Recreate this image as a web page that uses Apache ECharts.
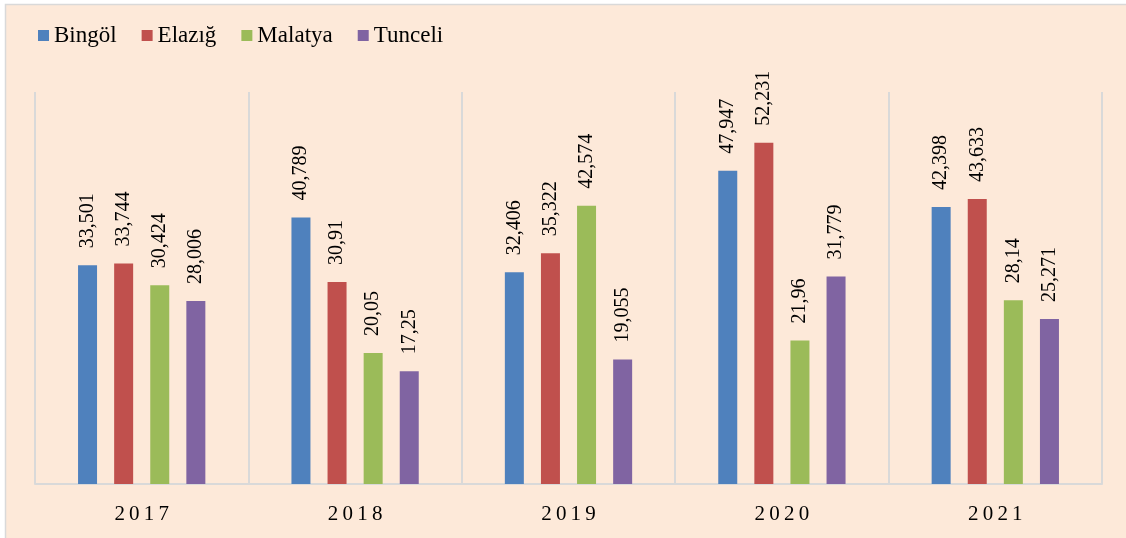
<!DOCTYPE html>
<html>
<head>
<meta charset="utf-8">
<script src="https://cdn.jsdelivr.net/npm/echarts@6/dist/echarts.min.js"></script>
<style>
html, body { margin: 0; padding: 0; background: #ffffff; }
#container { width: 1126px; height: 538px; }
</style>
</head>
<body>
<div id="container"></div>
<script>
var years = ['2017', '2018', '2019', '2020', '2021'];
var bingol = [33.501, 40.789, 32.406, 47.947, 42.398];
var elazig = [33.744, 30.91, 35.322, 52.231, 43.633];
var malatya = [30.424, 20.05, 42.574, 21.96, 28.14];
var tunceli = [28.006, 17.25, 19.055, 31.779, 25.271];

var dom = document.getElementById('container');
var myChart = echarts.init(dom);
var font = '"Liberation Serif", "Times New Roman", serif';

function makeSeries(name, data, color) {
    return {
        name: name,
        type: 'bar',
        data: data,
        barWidth: 19,
        barGap: '90%',
        itemStyle: { color: color },
        label: {
            show: true,
            position: 'top',
            rotate: 90,
            align: 'left',
            verticalAlign: 'middle',
            distance: 17,
            color: '#000000',
            fontFamily: font,
            fontSize: 20,
            formatter: function (p) {
                return String(p.value).replace('.', ',');
            }
        }
    };
}

var option = {
    animation: false,
    graphic: [{
        type: 'rect',
        z: -10,
        silent: true,
        shape: { x: 5.5, y: 4.5, width: 1130, height: 540 },
        style: { fill: '#fde9d9', stroke: '#d9d9d9', lineWidth: 1.5 }
    }],
    legend: {
        left: 33,
        top: 19,
        icon: 'rect',
        itemWidth: 11,
        itemHeight: 11,
        itemGap: 25,
        textStyle: { fontFamily: font, fontSize: 23, color: '#000000' },
        data: ['Bingöl', 'Elazığ', 'Malatya', 'Tunceli']
    },
    grid: { left: 35, right: 24, top: 92, bottom: 54 },
    xAxis: {
        type: 'category',
        data: years,
        axisLine: { lineStyle: { color: '#d9d9d9', width: 2 } },
        axisTick: { show: false },
        splitLine: { show: true, lineStyle: { color: '#d9d9d9', width: 2 } },
        axisLabel: {
            color: '#000000',
            fontFamily: font,
            fontSize: 21,
            margin: 20,
            formatter: function (v) { return v.split('').join('\u2009'); }
        }
    },
    yAxis: {
        type: 'value',
        min: 0,
        max: 60,
        show: false,
        splitLine: { show: false }
    },
    series: [
        makeSeries('Bingöl', bingol, '#4f81bd'),
        makeSeries('Elazığ', elazig, '#c0504d'),
        makeSeries('Malatya', malatya, '#9bbb59'),
        makeSeries('Tunceli', tunceli, '#8064a2')
    ]
};

myChart.setOption(option);
</script>
</body>
</html>
